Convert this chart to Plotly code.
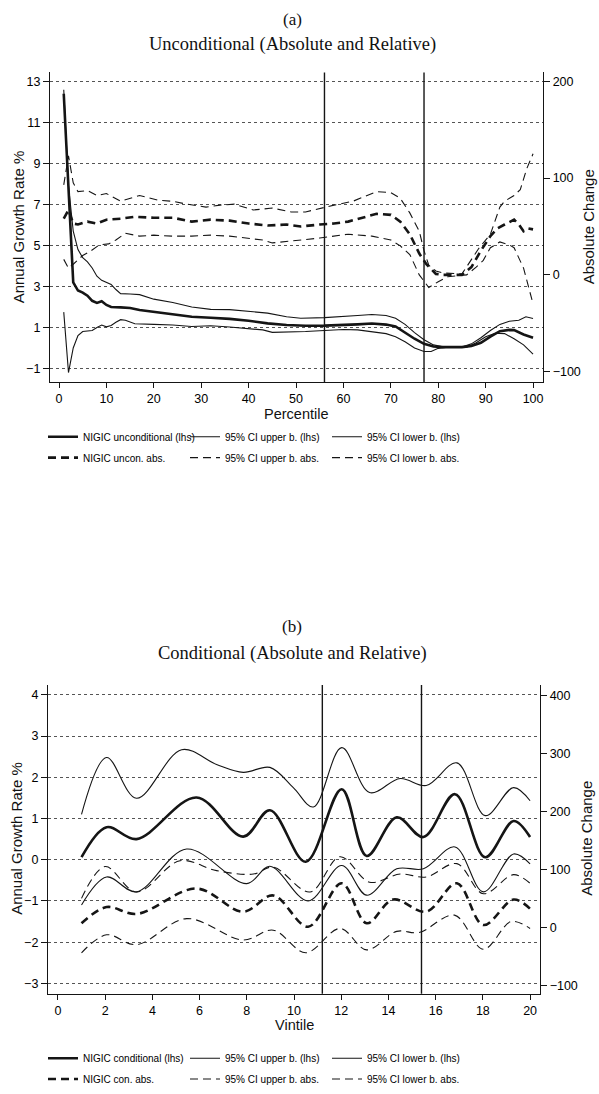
import plotly.graph_objects as go

W, H = 599, 1094

# ---------------- Panel (a): unconditional, by percentile ----------------
pct_est = [1, 2, 3, 4, 5, 6, 7, 8, 9, 10, 11, 13, 15, 17, 20, 24, 28, 32, 36, 40, 44, 48,
           52, 56, 60, 63, 66, 69, 71, 73, 75, 77, 79, 81, 83, 85, 87, 89, 91, 93, 95, 96, 98, 100]
unc_est = [12.4, 7.9, 3.2, 2.8, 2.7, 2.55, 2.3, 2.2, 2.28, 2.1, 2.0, 1.98, 1.95, 1.85, 1.76, 1.63,
           1.52, 1.47, 1.42, 1.33, 1.2, 1.12, 1.08, 1.09, 1.11, 1.15, 1.19, 1.14, 1.05, 0.75, 0.45,
           0.2, 0.07, 0.04, 0.04, 0.04, 0.1, 0.25, 0.55, 0.82, 0.88, 0.87, 0.66, 0.5]

pct_up = [1, 2, 3, 4, 5, 6, 7, 8, 9, 10, 11, 12, 13, 15, 17, 20, 24, 28, 32, 36, 40, 44, 48, 51,
          56, 60, 63, 66, 69, 71, 73, 75, 77, 79, 81, 85, 87, 89, 91, 93, 95, 97, 98.5, 100]
unc_up = [12.6, 7.9, 5.7, 4.8, 4.4, 4.2, 3.9, 3.5, 3.3, 3.2, 3.1, 2.85, 2.65, 2.63, 2.6, 2.38, 2.22,
          2.0, 1.88, 1.87, 1.78, 1.7, 1.52, 1.45, 1.48, 1.52, 1.58, 1.63, 1.58, 1.45, 1.15, 0.75,
          0.4, 0.15, 0.06, 0.04, 0.2, 0.5, 0.85, 1.15, 1.3, 1.35, 1.52, 1.44]

pct_lo = [1, 2, 3, 4, 5, 6, 7, 8, 9, 10, 11, 12, 13, 14, 16, 20, 24, 28, 32, 36, 40, 43, 45, 48,
          52, 56, 60, 63, 66, 69, 71, 73, 75, 77, 78.5, 80, 82, 86, 88, 90, 92, 94, 96, 98, 100]
unc_lo = [1.75, -1.2, 0.0, 0.6, 0.8, 0.82, 0.85, 1.0, 1.12, 1.03, 1.1, 1.25, 1.38, 1.35, 1.18, 1.15,
          1.12, 1.05, 1.08, 1.02, 0.95, 0.88, 0.76, 0.77, 0.8, 0.85, 0.9, 0.88, 0.8, 0.7, 0.55, 0.3,
          0.0, -0.17, -0.17, -0.02, 0.04, 0.04, 0.25, 0.55, 0.72, 0.7, 0.45, 0.15, -0.3]

pct_abs = [1, 2, 3, 4, 6, 8, 10, 13, 16, 20, 24, 28, 32, 36, 40, 44, 48, 51, 55, 58, 61, 64, 67,
           70, 72, 74, 76, 77.5, 79.5, 81, 85, 87, 89, 91, 92.5, 94, 96, 97, 98, 99, 100]
unc_abs = [58, 67, 53, 52, 55, 53, 57, 58, 60, 59, 59, 55, 57, 56, 53, 51, 52, 50, 52, 53, 55, 59,
           63, 62, 55, 42, 22, 11, 1, 0, 0, 8, 25, 40, 48, 52, 57, 52, 45, 48, 47]

pct_abs_up = [1, 2, 3, 4, 6, 8, 10, 13, 17, 21, 24, 27, 31, 34, 37, 41, 45, 49, 52, 56, 58, 62,
              65, 67, 70, 72, 74, 76, 77, 78, 79.5, 81, 85, 86.5, 88.5, 91, 93, 94, 96, 97.3,
              98.7, 100]
unc_abs_up = [93, 123, 95, 86, 87, 82, 84, 76, 82, 77, 76, 73, 70, 72, 73, 67, 69, 65, 65, 70, 72,
              76, 82, 86, 85, 79, 64, 45, 25, 10, 4, 2, 1, 12, 27, 42, 70, 76, 82, 88, 110, 125]

pct_abs_lo = [1, 2, 3, 4, 5, 6.5, 8.5, 10.5, 12, 14, 17, 20, 24, 28, 32, 36, 40, 43, 45, 47, 50,
              55, 61, 66, 70, 72, 74, 76, 78, 80, 82, 86, 88, 89.5, 91, 93, 95, 96, 98, 99.3, 100]
unc_abs_lo = [16, 7, 11, 16, 20, 24, 31, 32, 36, 43, 40, 41, 40, 40, 41, 40, 38, 36, 33, 34, 36,
              38, 42, 40, 36, 30, 21, 0, -13, -7, -2, 0, 8, 15, 28, 34, 31, 28, 7, -17, -30]

vlines_a = [56, 77]

# ---------------- Panel (b): conditional, by vintile ----------------
v_est = [1, 2.06, 3.33, 5.87, 7.85, 8.98, 10.5, 12.02, 13.08, 14.35, 15.48, 16.82, 18.1, 19.3, 20]
con_est = [0.06, 0.79, 0.5, 1.51, 0.56, 1.2, -0.05, 1.71, 0.09, 1.03, 0.55, 1.59, 0.06, 0.94, 0.55]

v_up = [1, 2.06, 3.33, 5.24, 6.72, 7.85, 8.98, 9.97, 10.82, 12.02, 13.2, 14.5, 15.6, 16.9, 18.1,
        19.3, 20]
con_up = [1.1, 2.48, 1.49, 2.67, 2.31, 2.12, 2.24, 1.75, 1.28, 2.72, 1.63, 1.97, 1.8, 2.35, 1.07,
          1.75, 1.43]

v_lo = [1, 2.06, 3.33, 5.45, 8.0, 8.98, 10.6, 12.02, 13.08, 14.35, 15.48, 16.82, 18.02, 19.3, 20]
con_lo = [-1.1, -0.42, -0.78, 0.26, -0.58, -0.16, -1.0, -0.14, -0.86, -0.22, -0.22, 0.31, -0.78,
          0.14, -0.1]

v_abs = [1, 2.06, 3.33, 5.87, 7.85, 9.12, 10.6, 12.02, 13.08, 14.2, 15.6, 16.9, 18.02, 19.3, 20]
con_abs = [7, 35, 23, 67, 27, 55, 1, 76, 7, 48, 27, 76, 4, 48, 32]

v_abs_up = [1, 2.0, 3.33, 5.17, 6.72, 8.28, 9.12, 10.68, 11.95, 13.2, 14.5, 15.6, 16.9, 18.02,
            19.3, 20]
con_abs_up = [50, 105, 61, 115, 98, 92, 104, 61, 122, 78, 92, 87, 110, 58, 91, 76]

v_abs_lo = [1, 2.06, 3.33, 5.45, 7.85, 9.12, 10.5, 11.95, 13.08, 14.35, 15.3, 16.8, 18.02, 19.2, 20]
con_abs_lo = [-44, -13, -30, 15, -22, -5, -44, -2, -39, -7, -9, 21, -38, 10, -2]

vlines_b = [11.2, 15.4]

# ---------------- figure ----------------
INK = "#151515"
SANS = "Liberation Sans, Arial, sans-serif"
SERIF = "Liberation Serif, Times New Roman, serif"
DASH = "8px,5px"

fig = go.Figure()


def add(x, y, xa, ya, name, leg, width, dash, shape):
    fig.add_trace(go.Scatter(
        x=x, y=y, xaxis=xa, yaxis=ya, name=name, legend=leg, mode="lines",
        line=dict(color=INK, width=width, dash=dash, shape=shape,
                  smoothing=1.0 if shape == "spline" else None)))


add(pct_est, unc_est, "x", "y", "NIGIC unconditional (lhs)", "legend", 2.6, "solid", "linear")
add(pct_up, unc_up, "x", "y", "95% CI upper b. (lhs)", "legend", 1.1, "solid", "linear")
add(pct_lo, unc_lo, "x", "y", "95% CI lower b. (lhs)", "legend", 1.1, "solid", "linear")
add(pct_abs, unc_abs, "x", "y2", "NIGIC uncon. abs.", "legend2", 2.6, DASH, "linear")
add(pct_abs_up, unc_abs_up, "x", "y2", "95% CI upper b. abs.", "legend2", 1.1, DASH, "linear")
add(pct_abs_lo, unc_abs_lo, "x", "y2", "95% CI lower b. abs.", "legend2", 1.1, DASH, "linear")

add(v_est, con_est, "x2", "y3", "NIGIC conditional (lhs)", "legend3", 2.6, "solid", "spline")
add(v_up, con_up, "x2", "y3", "95% CI upper b. (lhs)", "legend3", 1.1, "solid", "spline")
add(v_lo, con_lo, "x2", "y3", "95% CI lower b. (lhs)", "legend3", 1.1, "solid", "spline")
add(v_abs, con_abs, "x2", "y4", "NIGIC con. abs.", "legend4", 2.6, DASH, "spline")
add(v_abs_up, con_abs_up, "x2", "y4", "95% CI upper b. abs.", "legend4", 1.1, DASH, "spline")
add(v_abs_lo, con_abs_lo, "x2", "y4", "95% CI lower b. abs.", "legend4", 1.1, DASH, "spline")


def px_x(p):
    return p / W


def px_y(p):
    return 1 - p / H


tickfont = dict(family=SANS, size=12.5, color="#000")
common = dict(showline=True, linecolor=INK, linewidth=1.3, ticks="outside", ticklen=6,
              tickwidth=1.2, tickcolor=INK, tickfont=tickfont, zeroline=False)
xcommon = {k: v for k, v in common.items() if k != "ticklen"}

# panel (a) plot area: x 50..543 px, y 73..385 px
dom_a_x = [px_x(50), px_x(543)]
dom_a_y = [px_y(385), px_y(73)]
# panel (b) plot area: x 48..540 px, y 690..1001 px
dom_b_x = [px_x(48), px_x(540)]
dom_b_y = [px_y(1001), px_y(690)]

grid = dict(showgrid=True, gridcolor="#555", gridwidth=1, griddash="3px,3px")

fig.update_layout(
    width=W, height=H, autosize=False,
    margin=dict(l=0, r=0, t=0, b=0),
    paper_bgcolor="white", plot_bgcolor="white",
    xaxis=dict(domain=dom_a_x, anchor="y", range=[-1.9, 102.1], tickvals=list(range(0, 101, 10)),
               showgrid=False, ticklen=5, **xcommon),
    yaxis=dict(domain=dom_a_y, anchor="x", range=[-1.67, 13.44], tickvals=list(range(-1, 14, 2)),
               ticktext=[("\u22121" if v == -1 else str(v)) for v in range(-1, 14, 2)],
               **grid, **common),
    yaxis2=dict(overlaying="y", side="right", anchor="x", range=[-110.8, 209],
                tickvals=[-100, 0, 100, 200], ticktext=["\u2212100", "0", "100", "200"],
                showgrid=False, **common),
    xaxis2=dict(domain=dom_b_x, anchor="y3", range=[-0.42, 20.42], tickvals=list(range(0, 21, 2)),
                showgrid=False, ticklen=5, **xcommon),
    yaxis3=dict(domain=dom_b_y, anchor="x2", range=[-3.25, 4.24], tickvals=list(range(-3, 5)),
                ticktext=[("\u2212" + str(-v) if v < 0 else str(v)) for v in range(-3, 5)],
                **grid, **common),
    yaxis4=dict(overlaying="y3", side="right", anchor="x2", range=[-114.7, 418.8],
                tickvals=[-100, 0, 100, 200, 300, 400],
                ticktext=["\u2212100", "0", "100", "200", "300", "400"],
                showgrid=False, **common),
)

# vertical reference lines
for v in vlines_a:
    fig.add_shape(type="line", xref="x", yref="y domain", x0=v, x1=v, y0=0, y1=1,
                  line=dict(color=INK, width=1.4))
for v in vlines_b:
    fig.add_shape(type="line", xref="x2", yref="y3 domain", x0=v, x1=v, y0=0, y1=1,
                  line=dict(color=INK, width=1.4))

# legends (two rows per panel, three columns each)
leg_common = dict(orientation="h", xanchor="left", yanchor="middle", entrywidth=97,
                  entrywidthmode="pixels", itemwidth=30, bgcolor="rgba(0,0,0,0)",
                  font=dict(family=SANS, size=10, color="#000"), traceorder="normal")
fig.update_layout(
    legend=dict(x=px_x(43), y=px_y(440), **leg_common),
    legend2=dict(x=px_x(43), y=px_y(461), **leg_common),
    legend3=dict(x=px_x(43), y=px_y(1066), **leg_common),
    legend4=dict(x=px_x(43), y=px_y(1087), **leg_common),
)

# titles and axis titles
ann = []


def text(t, x, y, size, family=SANS, angle=0):
    ann.append(dict(text=t, x=px_x(x), y=px_y(y), xref="paper", yref="paper", showarrow=False,
                    xanchor="center", yanchor="middle", textangle=angle,
                    font=dict(family=family, size=size, color="#111")))


text("(a)", 292, 20, 17, SERIF)
text("Unconditional (Absolute and Relative)", 292, 45, 18.5, SERIF)
text("Annual Growth Rate %", 18, 229, 15, SANS, -90)
text("Absolute Change", 588, 229, 15, SANS, -90)
text("Percentile", 296, 417, 14.5)

text("(b)", 292, 631, 17, SERIF)
text("Conditional (Absolute and Relative)", 292, 658, 18.5, SERIF)
text("Annual Growth Rate %", 17, 845, 15, SANS, -90)
text("Absolute Change", 587, 845, 15, SANS, -90)
text("Vintile", 294, 1033, 14.5)

fig.update_layout(annotations=ann)

fig.write_html("out.html")
